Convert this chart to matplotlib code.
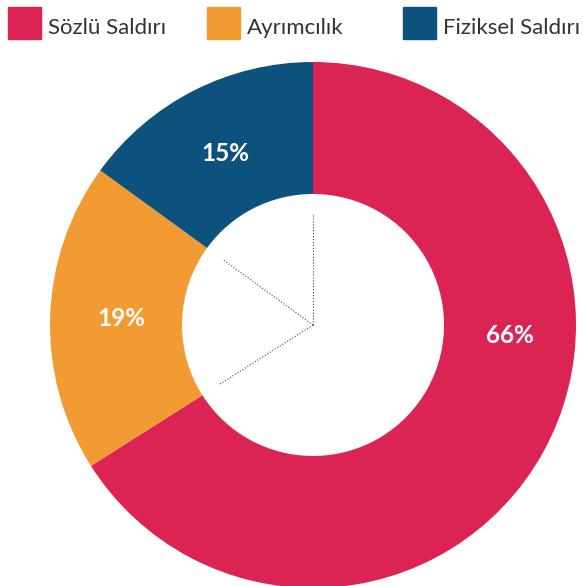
import numpy as np
import matplotlib.pyplot as plt
from matplotlib.patches import Rectangle

labels = ["Sözlü Saldırı", "Ayrımcılık", "Fiziksel Saldırı"]
values = [66, 19, 15]
colors = ["#DC2454", "#F29B32", "#0D527C"]

W, H = 583, 586
fig = plt.figure(figsize=(W / 100, H / 100), dpi=100)
ax = fig.add_axes([0, 0, 1, 1])

cx, cy, R = 313, H - 325, 263
wedges, texts, autotexts = ax.pie(
    values, colors=colors, startangle=90, counterclock=False,
    center=(cx, cy), radius=R, autopct="%d%%", pctdistance=0.73,
    wedgeprops=dict(width=132, linewidth=0),
    textprops=dict(color="white", fontsize=17.5, fontweight="bold", family="Lato"),
)
# first label sits lower, near the right side
a = np.deg2rad(-3)
autotexts[0].set_position((cx + 197 * np.cos(a), cy + 197 * np.sin(a)))

# dotted spokes at the slice boundaries
bounds = 90 - np.cumsum([0] + values[:-1]) / sum(values) * 360
for ang in bounds:
    t = np.deg2rad(ang)
    ax.plot([cx, cx + 112 * np.cos(t)], [cy, cy + 112 * np.sin(t)],
            color="#444444", linestyle=":", linewidth=0.8)

ax.set_xlim(0, W)
ax.set_ylim(0, H)
ax.set_aspect("equal")
ax.axis("off")

# legend across the top
xs = [8, 207, 403]
for x0, lab, col in zip(xs, labels, colors):
    fig.patches.append(Rectangle((x0 / W, 1 - 39 / H), 33 / W, 32 / H,
                                 transform=fig.transFigure, color=col))
    fig.text((x0 + 40) / W, 1 - 34 / H, lab, fontsize=16, color="#333333",
             va="baseline", ha="left", family="Lato")

fig.savefig("out.png", dpi=100)
